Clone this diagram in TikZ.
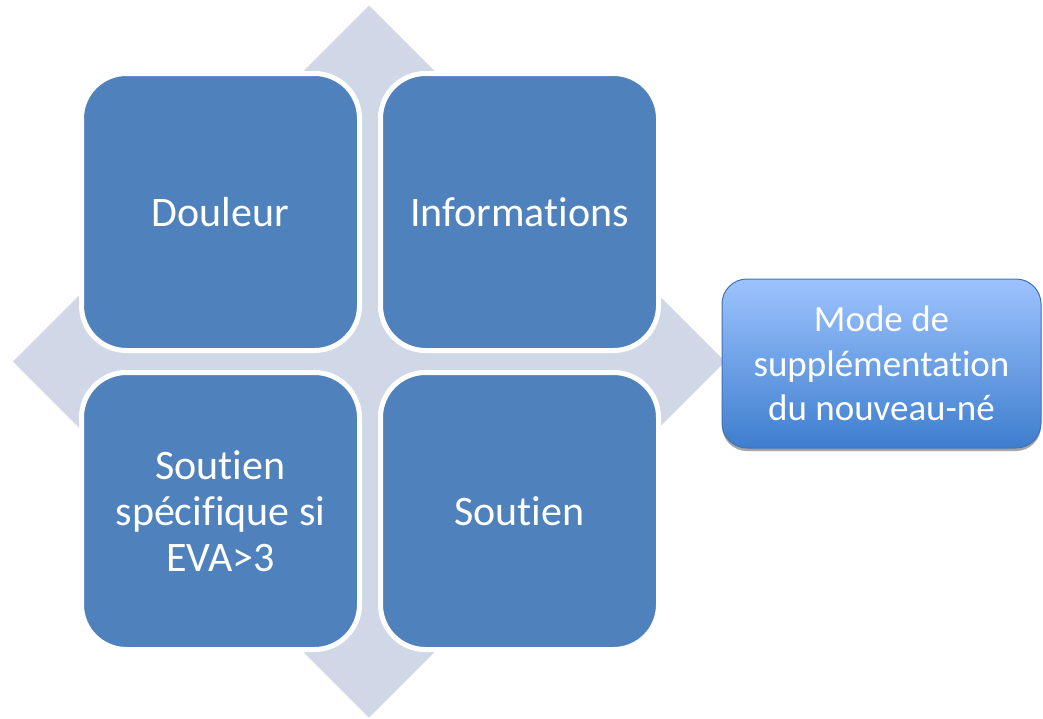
\documentclass[tikz,border=0pt]{standalone}
\usepackage{fontspec}
\setmainfont[Ligatures={NoCommon,NoRare}]{Carlito}
\usetikzlibrary{shadows}
\definecolor{boxblue}{HTML}{4F81BD}
\definecolor{diamfill}{HTML}{D0D8E8}
\definecolor{modetop}{HTML}{9DC3FE}
\definecolor{modebot}{HTML}{3E7ECE}
\definecolor{modeline}{HTML}{4272B2}
\tikzset{
  cell/.style={draw=white, line width=5pt, fill=boxblue, rounded corners=45pt,
    minimum width=278pt, minimum height=277pt, inner sep=0pt, text=white,
    align=center, font=\fontsize{42}{46}\selectfont},
  modebox/.style={draw=modeline, line width=1pt, rounded corners=25pt,
    top color=modetop, bottom color=modebot,
    minimum width=319pt, minimum height=169pt, inner sep=0pt, text=white,
    align=center, font=\fontsize{37}{44.5}\selectfont,
    drop shadow={shadow xshift=0pt, shadow yshift=-3pt, opacity=0.35, fill=black}},
  backdiamond/.style={fill=diamfill, draw=none}
}
\begin{document}
\begin{tikzpicture}[x=1pt,y=-1pt]
\useasboundingbox (0,0) rectangle (1043,718);
\fill[white] (0,0) rectangle (1043,718);
% background diamond
\path[backdiamond] (369,5.5) -- (725,361.5) -- (369,717.5) -- (13,361.5) -- cycle;
% four cells
\node[cell] (douleur) at (220.5,212) {Douleur};
\node[cell] (info) at (519.5,212) {Informations};
\node[cell] (specif) at (220.5,511) {Soutien\\spécifique si\\EVA>3};
\node[cell] (soutien) at (519.5,511) {Soutien};
% result box
\node[modebox] (mode) at (881.5,363.5) {Mode de\\supplémentation\\du nouveau-né};
\end{tikzpicture}
\end{document}
